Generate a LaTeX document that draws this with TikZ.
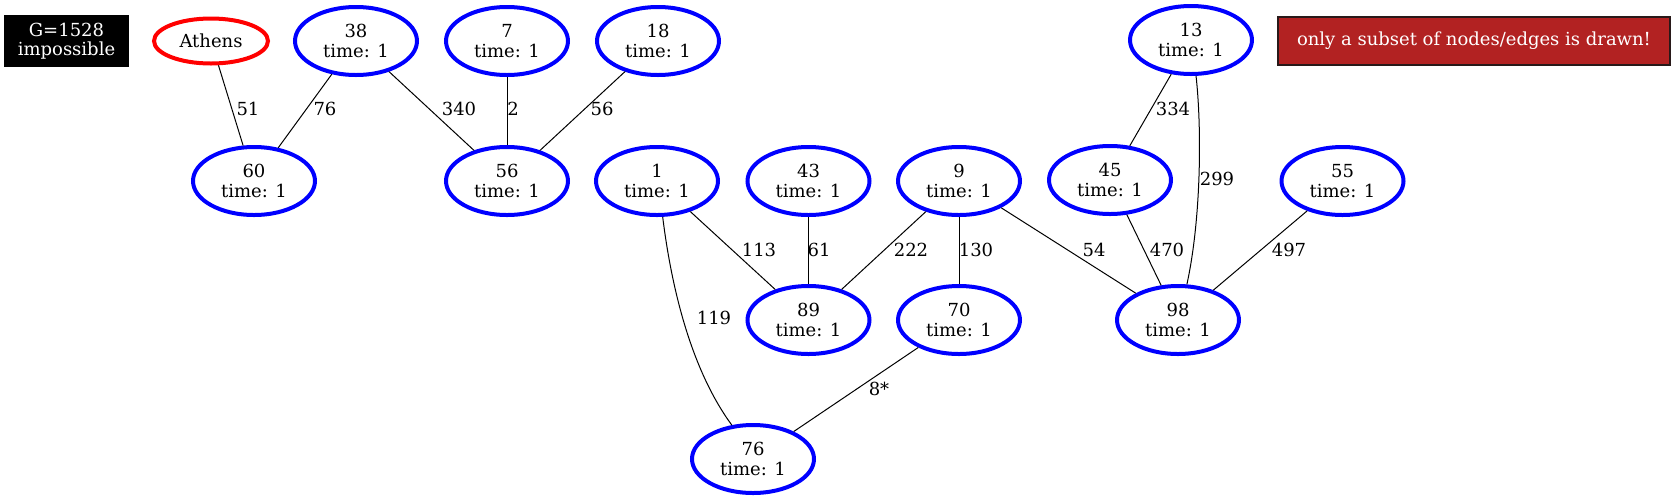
\documentclass[tikz,border=0pt]{standalone}
\usepackage{fontspec}
\setmainfont{DejaVu Serif}
\usetikzlibrary{shapes.geometric}
\begin{document}
\begin{tikzpicture}[x=0.75pt,y=-0.75pt,
  lbl/.style={font=\fontsize{13.5}{15}\selectfont, inner sep=0pt},
  bnode/.style={ellipse, draw=blue, line width=3pt, minimum width=91.5pt, minimum height=51pt,
    inner sep=0pt, align=center, font=\fontsize{13.5}{15}\selectfont},
  rnode/.style={ellipse, draw=red, line width=3pt, minimum width=85.5pt, minimum height=33.75pt,
    inner sep=0pt, align=center, font=\fontsize{13.5}{15}\selectfont},
  edge/.style={draw=black, line width=0.75pt}]
\useasboundingbox (0,0) rectangle (1675,501);
% info boxes
\node[fill=black, text=white, minimum width=93.75pt, minimum height=39pt, inner sep=0pt,
  align=center, font=\fontsize{13.5}{14.5}\selectfont] (G) at (66.5,41) {G=1528\\impossible};
\node[fill={rgb,255:red,178;green,34;blue,34}, draw={rgb,255:red,40;green,25;blue,25}, line width=0.9pt,
  text=white, minimum width=294pt, minimum height=36pt, inner sep=0pt,
  font=\fontsize{13.5}{15}\selectfont] (note) at (1474,41) {only a subset of nodes/edges is drawn!};
% nodes
\node[rnode] (athens) at (211,41) {Athens};
\node[bnode] (n38) at (356,41) {38\\time: 1};
\node[bnode] (n7) at (507,41) {7\\time: 1};
\node[bnode] (n18) at (658,41) {18\\time: 1};
\node[bnode] (n13) at (1191,40) {13\\time: 1};
\node[bnode] (n60) at (254,181) {60\\time: 1};
\node[bnode] (n56) at (507,181) {56\\time: 1};
\node[bnode] (n1) at (657,181) {1\\time: 1};
\node[bnode] (n43) at (808.5,181) {43\\time: 1};
\node[bnode] (n9) at (959,181) {9\\time: 1};
\node[bnode] (n45) at (1110,180) {45\\time: 1};
\node[bnode] (n55) at (1342.5,181) {55\\time: 1};
\node[bnode] (n89) at (808.5,320) {89\\time: 1};
\node[bnode] (n70) at (959,320) {70\\time: 1};
\node[bnode] (n98) at (1178,320) {98\\time: 1};
\node[bnode] (n76) at (753,459) {76\\time: 1};
% edges
\draw[edge] (athens) -- (n60);
\draw[edge] (n38) -- (n60);
\draw[edge] (n38) -- (n56);
\draw[edge] (n7) -- (n56);
\draw[edge] (n18) -- (n56);
\draw[edge] (n13) -- (n45);
\draw[edge] (n13.-82) .. controls (1202,130) and (1201,220) .. (n98.76);
\draw[edge] (n1) -- (n89);
\draw[edge] (n1.-81) .. controls (673,300) and (695,375) .. (n76.122);
\draw[edge] (n43) -- (n89);
\draw[edge] (n9) -- (n89);
\draw[edge] (n9) -- (n70);
\draw[edge] (n9) -- (n98);
\draw[edge] (n45) -- (n98);
\draw[edge] (n55) -- (n98);
\draw[edge] (n70) -- (n76);
% edge labels
\node[lbl] (l51) at (248,109) {51};
\node[lbl] (l76) at (325,109) {76};
\node[lbl] (l340) at (459,109) {340};
\node[lbl] (l2) at (513,109) {2};
\node[lbl] (l56) at (602,109) {56};
\node[lbl] (l334) at (1173,109) {334};
\node[lbl] (l299) at (1217,179) {299};
\node[lbl] (l113) at (759,250) {113};
\node[lbl] (l61) at (819,250) {61};
\node[lbl] (l222) at (911,250) {222};
\node[lbl] (l130) at (976,250) {130};
\node[lbl] (l54) at (1094,250) {54};
\node[lbl] (l470) at (1167,250) {470};
\node[lbl] (l497) at (1289,250) {497};
\node[lbl] (l119) at (714,318) {119};
\node[lbl] (l8) at (879,389) {8*};
\end{tikzpicture}
\end{document}
